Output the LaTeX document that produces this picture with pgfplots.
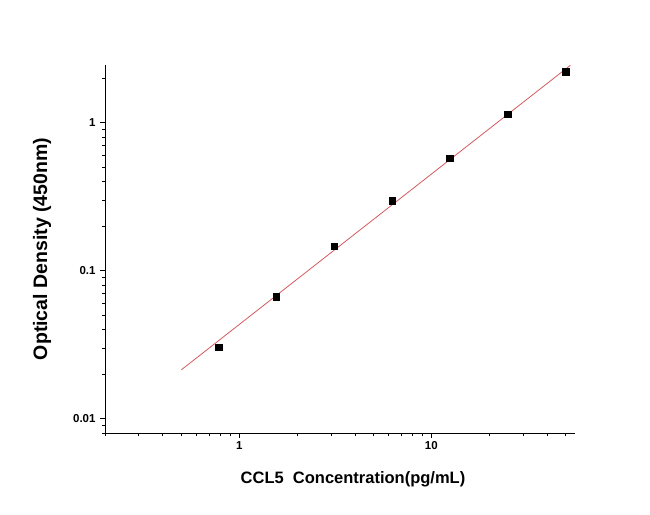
\documentclass[border=0pt]{standalone}
\usepackage{pgfplots}
\pgfplotsset{compat=1.18}
\usepackage{fontspec}
\setmainfont{Liberation Sans}
\definecolor{fitred}{RGB}{212,90,95}
\begin{document}
\begin{tikzpicture}
\begin{axis}[
  scale only axis,
  width=470pt, height=368pt,
  xmode=log, ymode=log,
  xmin=0.2, xmax=56,
  ymin=0.008, ymax=2.45,
  axis x line*=bottom, axis y line*=left,
  axis line style={black, line width=0.8pt},
  tick align=outside,
  major tick length=5pt, minor tick length=3pt,
  every tick/.style={black, line width=0.7pt},
  xtick={1,10}, xticklabels={1,10},
  minor xtick={0.2,0.3,0.4,0.5,0.6,0.7,0.8,0.9,2,3,4,5,6,7,8,9,20,30,40,50},
  ytick={0.01,0.1,1}, yticklabels={0.01,0.1,1},
  minor ytick={0.008,0.009,0.02,0.03,0.04,0.05,0.06,0.07,0.08,0.09,0.2,0.3,0.4,0.5,0.6,0.7,0.8,0.9,2},
  /pgf/number format/assume math mode=true,
  tick label style={font=\fontsize{11.5}{13}\selectfont\bfseries},
  yticklabel style={xshift=-1pt},
  xlabel={CCL5\ \ Concentration(pg/mL)},
  ylabel={Optical Density (450nm)},
  xlabel style={font=\fontsize{16.5}{18}\selectfont\bfseries, yshift=-15pt, xshift=13pt},
  ylabel style={font=\fontsize{19.5}{21}\selectfont\bfseries, yshift=15pt},
  clip=false,
]
\addplot[fitred, line width=0.8pt] coordinates {(0.5,0.0214) (53,2.44)};
\addplot[only marks, mark=square*, mark size=3.3pt, mark options={fill=black, draw=black}] coordinates {
 (0.78,0.0303) (1.56,0.0667) (3.125,0.146) (6.25,0.298) (12.5,0.576) (25,1.14) (50,2.20)
};
\end{axis}
\pgfresetboundingbox
\path (-105pt,-81pt) rectangle (545pt,433pt);
\end{tikzpicture}
\end{document}
